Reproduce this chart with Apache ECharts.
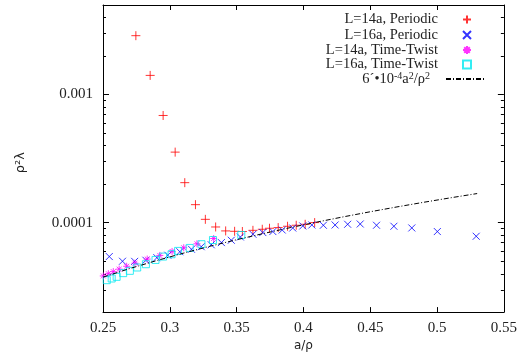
<!DOCTYPE html>
<html><head><meta charset="utf-8">
<script src="https://cdn.jsdelivr.net/npm/echarts@6/dist/echarts.min.js"></script>
<style>html,body{margin:0;padding:0;background:#fff}#c{width:520px;height:357px}</style>
</head><body><div id="c"></div>
<script>
// ---- data ----
const xMin = 0.25, xMax = 0.55, xStep = 0.05;
const yMin = 2e-5, yMax = 5e-3;
const yMajorTicks = [0.0001, 0.001];
const yMinorTicks = [3e-5,4e-5,5e-5,6e-5,7e-5,8e-5,9e-5,2e-4,3e-4,4e-4,5e-4,6e-4,7e-4,8e-4,9e-4,2e-3,3e-3,4e-3];

const names = ['L=14a, Periodic','L=16a, Periodic','L=14a, Time-Twist','L=16a, Time-Twist','6´•10-4a2/ρ2'];

const periodic14X = [0.2746,0.2853,0.2950,0.3040,0.3112,0.3192,0.3266,0.3343,0.3418,0.3485,0.3543,0.3622,0.3692,0.3746,0.3811,0.3881,0.3946,0.4013,0.4084];
const periodic14Y = [2.88e-3,1.41e-3,6.86e-4,3.55e-4,2.05e-4,1.38e-4,1.06e-4,9.24e-5,8.61e-5,8.55e-5,8.52e-5,8.70e-5,8.87e-5,9.03e-5,9.14e-5,9.36e-5,9.53e-5,9.70e-5,1.0e-4];

const periodic16X = [0.2547,0.2646,0.2737,0.2821,0.2903,0.2985,0.3075,0.3162,0.3235,0.3310,0.3386,0.3460,0.3528,0.3622,0.3696,0.3771,0.3841,0.3920,0.3995,0.4063,0.4149,0.4237,0.4331,0.4425,0.4547,0.4677,0.4811,0.5002,0.5293];
const periodic16Y = [5.43e-5,4.99e-5,4.98e-5,5.08e-5,5.32e-5,5.56e-5,5.92e-5,6.19e-5,6.48e-5,6.71e-5,6.98e-5,7.28e-5,7.72e-5,8.11e-5,8.36e-5,8.51e-5,8.75e-5,9.07e-5,9.41e-5,9.58e-5,9.53e-5,9.58e-5,9.70e-5,9.75e-5,9.53e-5,9.36e-5,9.08e-5,8.51e-5,7.82e-5];

const twist14X = [0.2502,0.2540,0.2577,0.2621,0.2677,0.2739,0.2831,0.2925,0.3017,0.3104,0.3203,0.3328];
const twist14Y = [3.83e-5,3.99e-5,4.14e-5,4.33e-5,4.56e-5,4.82e-5,5.19e-5,5.54e-5,5.95e-5,6.36e-5,6.83e-5,7.51e-5];

const twist16X = [0.2528,0.2565,0.2602,0.2651,0.2701,0.2756,0.2821,0.2893,0.2950,0.3013,0.3062,0.3149,0.3237,0.3323,0.3535];
const twist16Y = [3.55e-5,3.66e-5,3.77e-5,4.03e-5,4.20e-5,4.46e-5,4.73e-5,5.11e-5,5.43e-5,5.66e-5,6.01e-5,6.34e-5,6.78e-5,7.31e-5,8.0e-5];

const fitX = [0.25,0.27,0.29,0.31,0.33,0.35,0.37,0.39,0.41,0.43,0.45,0.47,0.49,0.51,0.53];
const fitY = [3.75e-5,4.374e-5,5.046e-5,5.766e-5,6.534e-5,7.35e-5,8.214e-5,9.126e-5,1.0086e-4,1.1094e-4,1.215e-4,1.3254e-4,1.4406e-4,1.5606e-4,1.6854e-4];

// ---- chart ----
const zip = (a, b) => a.map((v, i) => [v, b[i]]);
const SERIF = 'Liberation Serif';
const PLUS = 'path://M5,0 L5,10 M0,5 L10,5';
const CROSS = 'path://M0,0 L10,10 M10,0 L0,10';
const STAR = 'path://M5,0 L5,10 M0,5 L10,5 M1.5,1.5 L8.5,8.5 M8.5,1.5 L1.5,8.5';
const BOX = 'path://M0,0 L10,0 L10,10 L0,10 Z';
const COLORS = ['#ff0000', '#0000ff', '#ff00ff', '#00e8f0'];
const TICK_FS = 15, LEG_FS = 14.5;

function scatter(name, x, y, sym, size, col) {
  return {
    name, type: 'scatter', data: zip(x, y), symbol: sym, symbolSize: size,
    itemStyle: { color: 'rgba(0,0,0,0)', borderColor: col, borderWidth: 1 },
    emphasis: { disabled: true }, animation: false
  };
}

const yFmt = v => yMajorTicks.some(t => Math.abs(t - v) / t < 1e-6) ? String(Number(v.toPrecision(6))) : '';

const rowCenters = [16, 31.5, 46.5, 61, 76];
const legendRows = names.map((n, i) => {
  const isLine = i === 4;
  const h = isLine ? 10 : 8;
  return {
    data: [isLine ? { name: n, itemStyle: { opacity: 0 } } : n],
    orient: 'horizontal', align: 'right',
    right: isLine ? 33 : 48, top: rowCenters[i] - h / 2,
    padding: 0, itemWidth: isLine ? 40 : 8, itemHeight: h, selectedMode: false,
    textStyle: {
      fontFamily: SERIF, fontSize: LEG_FS, color: '#222', padding: [0, isLine ? 11 : 20, 0, 0],
      rich: { s: { fontFamily: SERIF, fontSize: 10, verticalAlign: 'top', color: '#222', padding: [0, 0, 6, 0] },
              n: { fontFamily: SERIF, fontSize: LEG_FS, color: '#222' } }
    },
    formatter: isLine ? () => '{n|6´•10}{s|-4}{n|a}{s|2}{n|/ρ}{s|2}' : undefined
  };
});

const option = {
  animation: false,
  textStyle: { fontFamily: SERIF },
  grid: { left: 103, right: 15, top: 5, bottom: 44 },
  legend: legendRows,
  xAxis: [{
    type: 'value', min: xMin, max: xMax, interval: xStep,
    axisLine: { show: true, lineStyle: { color: '#000', width: 1 } },
    axisTick: { show: true, inside: true, length: 5, lineStyle: { color: '#000' } },
    axisLabel: { fontFamily: SERIF, fontSize: TICK_FS, color: '#222', margin: 8 },
    splitLine: { show: false },
    name: 'a/ρ', nameLocation: 'middle', nameGap: 27,
    nameTextStyle: { fontFamily: 'DejaVu Sans', fontSize: 12, color: '#222' }
  }, {
    type: 'value', position: 'top', min: xMin, max: xMax, interval: xStep,
    axisLine: { show: true, onZero: false, lineStyle: { color: '#000', width: 1 } },
    axisTick: { show: true, inside: true, length: 5, lineStyle: { color: '#000' } },
    axisLabel: { show: false }, splitLine: { show: false }
  }],
  yAxis: [{
    type: 'log', logBase: 10, min: yMin, max: yMax,
    axisLine: { show: true, lineStyle: { color: '#000', width: 1 } },
    axisTick: { show: true, inside: true, length: 6, lineStyle: { color: '#000' } },
    axisLabel: { formatter: yFmt, fontFamily: SERIF, fontSize: TICK_FS, color: '#222', margin: 10, showMinLabel: false, showMaxLabel: false },
    splitLine: { show: false },
    name: 'ρ²λ', nameLocation: 'middle', nameGap: 76,
    nameTextStyle: { fontFamily: 'DejaVu Sans', fontSize: 13, color: '#222', padding: [0, 0, 0, -8] }
  }, {
    type: 'log', logBase: 10, min: yMin, max: yMax, position: 'right',
    axisLine: { show: true, onZero: false, lineStyle: { color: '#000', width: 1 } },
    axisTick: { show: true, inside: true, length: 6, lineStyle: { color: '#000' } },
    axisLabel: { show: false }, splitLine: { show: false }
  }],
  series: [
    scatter(names[0], periodic14X, periodic14Y, PLUS, 9, COLORS[0]),
    scatter(names[1], periodic16X, periodic16Y, CROSS, 7, COLORS[1]),
    scatter(names[2], twist14X, twist14Y, STAR, 7, COLORS[2]),
    scatter(names[3], twist16X, twist16Y, BOX, 7, COLORS[3]),
    {
      name: names[4], type: 'line', data: zip(fitX, fitY), symbol: 'none', smooth: false,
      lineStyle: { color: '#000', width: 1, type: [5, 2, 1, 2] },
      itemStyle: { color: '#000' }, emphasis: { disabled: true }, animation: false
    },
    {
      type: 'custom', silent: true, clip: false, animation: false,
      data: yMinorTicks.map(v => [xMin, v]),
      renderItem(params, api) {
        const p = api.coord([xMin, api.value(1)]);
        const cs = params.coordSys;
        const y = Math.round(p[1]) + 0.5;
        return { type: 'group', children: [
          { type: 'line', shape: { x1: cs.x, y1: y, x2: cs.x + 3, y2: y }, style: { stroke: '#000', lineWidth: 1 } },
          { type: 'line', shape: { x1: cs.x + cs.width, y1: y, x2: cs.x + cs.width - 3, y2: y }, style: { stroke: '#000', lineWidth: 1 } }
        ]};
      }
    }
  ]
};
const chart = echarts.init(document.getElementById('c'), null, { renderer: 'canvas' });
chart.setOption(option);
</script></body></html>
